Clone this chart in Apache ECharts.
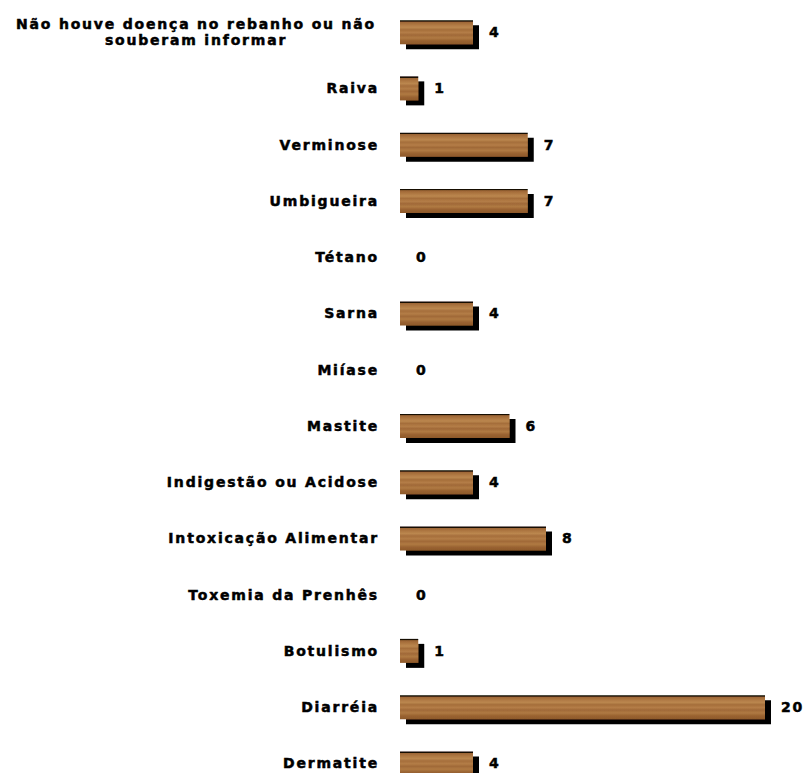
<!DOCTYPE html>
<html>
<head>
<meta charset="utf-8">
<script src="https://cdn.jsdelivr.net/npm/echarts@6/dist/echarts.min.js"></script>
<style>
  html, body { margin: 0; padding: 0; background: #ffffff; overflow: hidden; }
  /* the last row runs past the bottom edge of the window */
  #chart { width: 806px; height: 792px; }
  #chart svg text { letter-spacing: 1.8px; }
</style>
</head>
<body>
<div id="chart"></div>
<script>
// Doenças relatadas nos rebanhos (número de propriedades)
const categories = [
  'Não houve doença no rebanho ou não souberam informar',
  'Raiva',
  'Verminose',
  'Umbigueira',
  'Tétano',
  'Sarna',
  'Miíase',
  'Mastite',
  'Indigestão ou Acidose',
  'Intoxicação Alimentar',
  'Toxemia da Prenhês',
  'Botulismo',
  'Diarréia',
  'Dermatite'
];
const counts = [4, 1, 7, 7, 0, 4, 0, 6, 4, 8, 0, 1, 20, 4];

// wood-like fill: horizontal grain as a vertical gradient, dark top edge
const woodFill = {
  type: 'linear', x: 0, y: 0, x2: 0, y2: 1,
  colorStops: [
    { offset: 0.00, color: '#140a03' },
    { offset: 0.05, color: '#140a03' },
    { offset: 0.07, color: '#9c6535' },
    { offset: 0.18, color: '#ad7641' },
    { offset: 0.30, color: '#bb874f' },
    { offset: 0.40, color: '#a56e3b' },
    { offset: 0.52, color: '#b47d47' },
    { offset: 0.62, color: '#a06938' },
    { offset: 0.74, color: '#b07a43' },
    { offset: 0.86, color: '#9a6331' },
    { offset: 1.00, color: '#8e592b' }
  ]
};

const chart = echarts.init(document.getElementById('chart'), null, { renderer: 'svg' });

const labelFont = 'DejaVu Sans';
// a thin outline in the text colour gives the heavier lettering
const heavyText = {
  color: '#000000',
  fontFamily: labelFont,
  fontWeight: 'bold',
  fontSize: 14,
  textBorderColor: '#000000',
  textBorderWidth: 0.5
};

chart.setOption({
  backgroundColor: '#ffffff',
  animation: false,
  grid: { left: 400, right: 41, top: 4, bottom: 0.5, containLabel: false },
  xAxis: {
    type: 'value',
    min: 0,
    max: 20,
    show: false
  },
  yAxis: {
    type: 'category',
    data: categories,
    inverse: true,
    axisLine: { show: false },
    axisTick: { show: false },
    splitLine: { show: false },
    axisLabel: Object.assign({
      margin: 21,
      formatter: function (value, idx) {
        if (idx === 0) {
          return '{c|Não houve doença no rebanho ou não}\n{c|souberam informar}';
        }
        return value;
      },
      rich: {
        c: Object.assign({ width: 366, align: 'center', lineHeight: 16 }, heavyText)
      }
    }, heavyText)
  },
  series: [{
    type: 'bar',
    data: counts,
    barWidth: 24,
    itemStyle: {
      color: woodFill,
      shadowColor: '#000000',
      shadowBlur: 0,
      shadowOffsetX: 6,
      shadowOffsetY: 5
    },
    label: Object.assign({
      show: true,
      position: 'right',
      distance: 16
    }, heavyText)
  }]
});
</script>
</body>
</html>
